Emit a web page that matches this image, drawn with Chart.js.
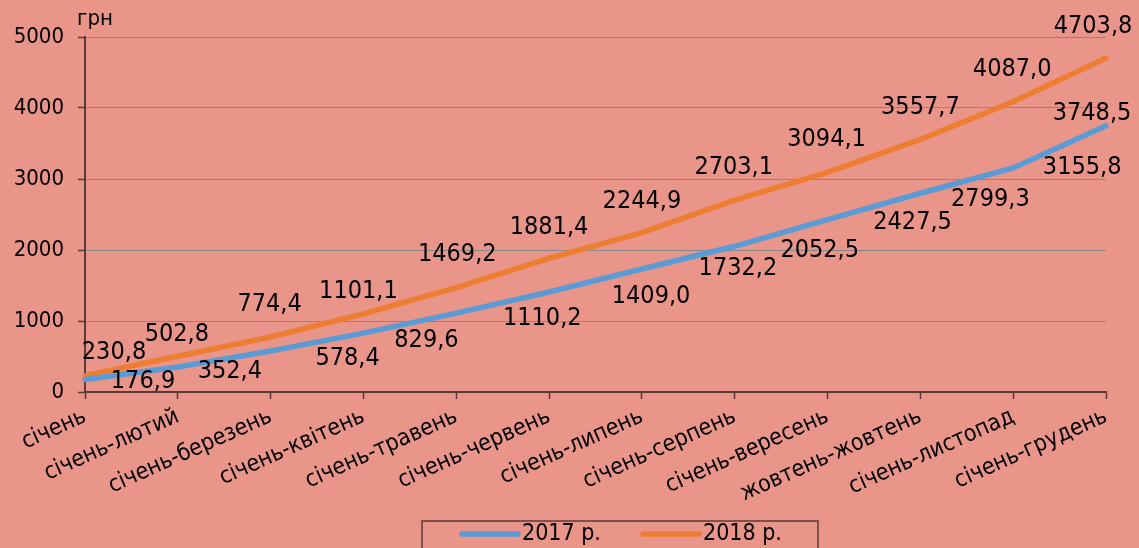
<!DOCTYPE html>
<html>
<head>
<meta charset="utf-8">
<script src="https://cdn.jsdelivr.net/npm/chart.js@4.4.1/dist/chart.umd.min.js"></script>
<style>
  html, body { margin: 0; padding: 0; background: #E9958A; }
  #wrap { width: 1139px; height: 548px; position: relative; }
</style>
</head>
<body>
<div id="wrap"><canvas id="salary"></canvas></div>
<script>
const months = ['січень', 'січень-лютий', 'січень-березень', 'січень-квітень', 'січень-травень', 'січень-червень',
	'січень-липень', 'січень-серпень', 'січень-вересень', 'жовтень-жовтень', 'січень-листопад', 'січень-грудень'];
const values2017 = [176.9, 352.4, 578.4, 829.6, 1110.2, 1409.0, 1732.2, 2052.5, 2427.5, 2799.3, 3155.8, 3748.5];
const values2018 = [230.8, 502.8, 774.4, 1101.1, 1469.2, 1881.4, 2244.9, 2703.1, 3094.1, 3557.7, 4087.0, 4703.8];
const yTicks = [0, 1000, 2000, 3000, 4000, 5000];

// where each value label sits, in px from its point
const shift2017 = [[58, 2], [52, 5], [77, 8], [63, 7], [86, 5], [102, 5], [96, -1], [85, 4], [85, 3], [70, 6], [69, 0], [-14, -12]];
const shift2018 = [[29, -23], [-1, -22], [-1, -33], [-5, -22], [1, -33], [0, -31], [0, -31], [-1, -33], [-1, -33], [0, -32], [-1, -32], [-13, -32]];

const FONT = '"DejaVu Sans Condensed", "DejaVu Sans", sans-serif';
const axisDark = '#5a3a36';

// value labels, "грн" and the framed legend
const decorations = {
	id: 'decorations',
	afterDatasetsDraw(chart) {
		const ctx = chart.ctx;
		const shifts = [shift2017, shift2018];
		ctx.save();
		ctx.font = '25px ' + FONT;
		ctx.fillStyle = '#000';
		ctx.textAlign = 'center';
		ctx.textBaseline = 'middle';
		chart.data.datasets.forEach((ds, i) => {
			chart.getDatasetMeta(i).data.forEach((pt, j) => {
				const txt = ds.data[j].toFixed(1).replace('.', ',');
				ctx.fillText(txt, pt.x + shifts[i][j][0], pt.y + shifts[i][j][1]);
			});
		});
		ctx.restore();
	},
	afterDraw(chart) {
		const ctx = chart.ctx;
		const area = chart.chartArea;
		ctx.save();
		ctx.font = '22px ' + FONT;
		ctx.fillStyle = '#000';
		ctx.textAlign = 'left';
		ctx.textBaseline = 'alphabetic';
		ctx.fillText('грн', area.left - 8, area.top - 12);

		// legend
		const frameLeft = 422, frameRight = 818, frameTop = 521;
		ctx.strokeStyle = axisDark;
		ctx.lineWidth = 1.5;
		ctx.strokeRect(frameLeft, frameTop, frameRight - frameLeft, chart.height - frameTop + 4);
		const rowY = 534;
		let x = frameLeft + 40;
		ctx.font = '23px ' + FONT;
		ctx.textBaseline = 'middle';
		chart.data.datasets.forEach(ds => {
			ctx.strokeStyle = ds.borderColor;
			ctx.lineWidth = 5.5;
			ctx.lineCap = 'round';
			ctx.beginPath();
			ctx.moveTo(x, rowY);
			ctx.lineTo(x + 56, rowY);
			ctx.stroke();
			ctx.fillText(ds.label, x + 60, rowY);
			x += 181;
		});
		ctx.restore();
	}
};

const ctx = document.getElementById('salary').getContext('2d');
const myChart = new Chart(ctx, {
	type: 'line',
	data: {
		labels: months,
		datasets: [{
			label: '2017 р.',
			data: values2017,
			borderColor: '#5B9BD5',
			backgroundColor: '#5B9BD5',
			borderWidth: 5.5,
			borderCapStyle: 'round',
			pointRadius: 0,
			tension: 0
		}, {
			label: '2018 р.',
			data: values2018,
			borderColor: '#ED7D31',
			backgroundColor: '#ED7D31',
			borderWidth: 5.5,
			borderCapStyle: 'round',
			pointRadius: 0,
			tension: 0
		}]
	},
	options: {
		responsive: true,
		maintainAspectRatio: false,
		animation: false,
		layout: { padding: { top: 37, right: 33, left: 0, bottom: 0 } },
		plugins: {
			tooltip: { enabled: false },
			legend: { display: false }
		},
		scales: {
			x: {
				grid: { drawOnChartArea: false, tickColor: axisDark, tickLength: 7, tickWidth: 1.5 },
				border: { color: axisDark, width: 2 },
				ticks: {
					color: '#000',
					font: { family: FONT, size: 23 },
					autoSkip: false,
					maxRotation: 24,
					minRotation: 24,
					padding: 4
				},
				afterFit(scale) {
					scale.height = 548 - 392;
				}
			},
			y: {
				min: 0,
				max: 5000,
				grid: { color: '#888888', lineWidth: 1, tickColor: axisDark, tickLength: 7, tickWidth: 1.5 },
				border: { color: axisDark, width: 2 },
				ticks: {
					color: '#000',
					font: { family: FONT, size: 22 },
					padding: 14,
					callback: v => String(v)
				},
				afterBuildTicks(scale) {
					scale.ticks = yTicks.map(v => ({ value: v }));
				},
				afterFit(scale) {
					scale.width = 85;
				}
			}
		}
	},
	plugins: [decorations]
});
</script>
</body>
</html>
